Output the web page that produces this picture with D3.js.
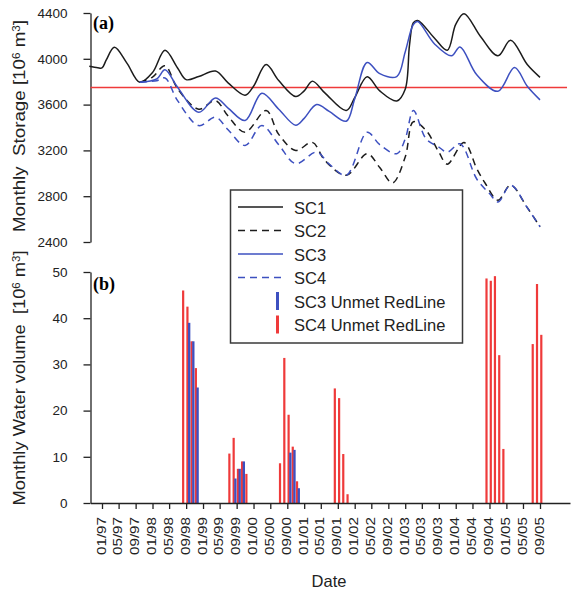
<!DOCTYPE html>
<html>
<head>
<meta charset="utf-8">
<script src="https://cdn.jsdelivr.net/npm/d3@7"></script>
<style>
  body { margin: 0; background: #fff; }
  svg { display: block; font-family: "Liberation Sans", Arial, sans-serif; }
</style>
</head>
<body>
<svg id="chart"></svg>
<script>
const width = 575;
const height = 592;

// monthly storage, 10^6 m3 (at turning points)
const sc1 = [
  ["1996-10", 3935], ["1996-12", 3922], ["1997-01", 3920], ["1997-02", 3990], ["1997-04", 4100],
  ["1997-07", 3960], ["1997-10", 3795], ["1998-01", 3880], ["1998-04", 4075], ["1998-07", 3920],
  ["1998-09", 3818], ["1998-12", 3845], ["1999-04", 3893], ["1999-07", 3790], ["1999-11", 3682],
  ["2000-01", 3760], ["2000-04", 3950], ["2000-07", 3810], ["2000-11", 3670], ["2001-01", 3720],
  ["2001-03", 3805], ["2001-06", 3700], ["2001-11", 3548], ["2002-01", 3660], ["2002-04", 3843],
  ["2002-07", 3720], ["2002-11", 3632], ["2003-01", 3735], ["2003-02", 4120], ["2003-03", 4315],
  ["2003-04", 4335], ["2003-08", 4180], ["2003-11", 4075], ["2004-01", 4300], ["2004-03", 4394],
  ["2004-07", 4190], ["2004-11", 4026], ["2005-02", 4163], ["2005-06", 3950], ["2005-09", 3838]
];
const sc2 = [
  ["1997-10", 3795], ["1998-01", 3840], ["1998-04", 3939], ["1998-07", 3739], ["1998-12", 3560],
  ["1999-04", 3635], ["1999-07", 3500], ["1999-11", 3359], ["2000-04", 3548], ["2000-07", 3340],
  ["2000-11", 3200], ["2001-03", 3270], ["2001-06", 3110], ["2001-11", 2983], ["2002-04", 3171],
  ["2002-07", 3050], ["2002-10", 2916], ["2003-01", 3142], ["2003-03", 3450], ["2003-06", 3374],
  ["2003-09", 3185], ["2003-11", 3080], ["2004-03", 3268], ["2004-06", 3041], ["2004-08", 2913],
  ["2004-11", 2765], ["2005-02", 2896], ["2005-06", 2700], ["2005-09", 2533]
];
const sc3 = [
  ["1997-10", 3795], ["1998-02", 3825], ["1998-04", 3904], ["1998-07", 3751], ["1998-12", 3533],
  ["1999-04", 3658], ["1999-07", 3570], ["1999-11", 3461], ["2000-03", 3700], ["2000-07", 3560],
  ["2000-11", 3420], ["2001-01", 3480], ["2001-04", 3600], ["2001-07", 3540], ["2001-11", 3455],
  ["2002-01", 3650], ["2002-04", 3968], ["2002-07", 3870], ["2002-11", 3845], ["2003-01", 4060],
  ["2003-03", 4300], ["2003-04", 4325], ["2003-08", 4130], ["2003-12", 4026], ["2004-02", 4104],
  ["2004-06", 3860], ["2004-11", 3716], ["2005-03", 3924], ["2005-06", 3760], ["2005-09", 3641]
];
const sc4 = [
  ["1997-10", 3795], ["1998-02", 3809], ["1998-04", 3832], ["1998-07", 3635], ["1998-12", 3417],
  ["1999-04", 3490], ["1999-07", 3380], ["1999-11", 3243], ["2000-03", 3417], ["2000-07", 3250],
  ["2000-11", 3084], ["2001-04", 3185], ["2001-07", 3080], ["2001-11", 2983], ["2002-04", 3359],
  ["2002-07", 3250], ["2002-11", 3171], ["2003-01", 3300], ["2003-03", 3548], ["2003-06", 3300],
  ["2003-09", 3229], ["2003-11", 3185], ["2004-02", 3258], ["2004-06", 2950], ["2004-09", 2823],
  ["2004-11", 2750], ["2005-02", 2896], ["2005-06", 2700], ["2005-09", 2533]
];
const redLine = 3750;

// unmet red line volume, 10^6 m3
const sc3Unmet = [
  ["1998-09", 39], ["1998-10", 35], ["1998-11", 25],
  ["1999-08", 5.3], ["1999-09", 7.4], ["1999-10", 9.0],
  ["2000-09", 10.9], ["2000-10", 11.5], ["2000-11", 3.2]
];
const sc4Unmet = [
  ["1998-08", 46], ["1998-09", 42.5], ["1998-10", 35], ["1998-11", 29.2],
  ["1999-07", 10.7], ["1999-08", 14.1], ["1999-09", 7.4], ["1999-10", 9.0], ["1999-11", 6.3],
  ["2000-07", 8.6], ["2000-08", 31.4], ["2000-09", 19.1], ["2000-10", 12.2], ["2000-11", 4.7],
  ["2001-08", 24.8], ["2001-09", 22.7], ["2001-10", 10.6], ["2001-11", 1.9],
  ["2004-08", 48.6], ["2004-09", 48.1], ["2004-10", 49.1], ["2004-11", 32.0], ["2004-12", 11.7],
  ["2005-07", 34.4], ["2005-08", 47.4], ["2005-09", 36.4]
];

const storageTicks = [2400, 2800, 3200, 3600, 4000, 4400];
const volumeTicks = [0, 10, 20, 30, 40, 50];
const firstTick = "1997-01";
const lastTick = "2005-09";

const parse = d3.timeParse("%Y-%m");
const black = "#1c1c1c", blue = "#3d50c0", red = "#ef3a3a";

const svg = d3.select("#chart")
  .attr("width", width)
  .attr("height", height);

const x = d3.scaleTime()
  .domain([parse(firstTick), parse(lastTick)])
  .range([102, 540]);
x.domain([x.invert(90.5), x.invert(570)]).range([90.5, 570]);

const yTop = d3.scaleLinear().domain([2400, 4400]).range([242, 13]);
const yBot = d3.scaleLinear().domain([0, 50]).range([503, 272]);

function styleAxis(g) {
  g.selectAll("path, line").attr("stroke", "#222").attr("stroke-width", 1.3);
  g.selectAll("text").attr("fill", "#222").style("font-size", "13.5px")
    .style("font-family", "'Liberation Sans', Arial, sans-serif");
}

// (a) storage
svg.append("g")
  .attr("transform", "translate(90.5,0)")
  .call(d3.axisLeft(yTop).tickValues(storageTicks).tickFormat(d3.format("d"))
    .tickSize(7).tickSizeOuter(0).tickPadding(16))
  .call(styleAxis);

svg.append("line")
  .attr("x1", 90.5).attr("x2", 567)
  .attr("y1", yTop(redLine)).attr("y2", yTop(redLine))
  .attr("stroke", red).attr("stroke-width", 1.5);

const line = d3.line()
  .x(d => x(parse(d[0])))
  .y(d => yTop(d[1]))
  .curve(d3.curveCatmullRom.alpha(0.5));

const series = [
  { data: sc1, color: black, dash: null },
  { data: sc2, color: black, dash: "7,5" },
  { data: sc3, color: blue, dash: null },
  { data: sc4, color: blue, dash: "7,5" }
];

series.forEach(s => {
  svg.append("path")
    .attr("d", line(s.data))
    .attr("fill", "none")
    .attr("stroke", s.color)
    .attr("stroke-width", 1.5)
    .attr("stroke-dasharray", s.dash);
});

// (b) unmet volume
svg.append("g")
  .attr("transform", "translate(90.5,0)")
  .call(d3.axisLeft(yBot).tickValues(volumeTicks).tickSize(7).tickSizeOuter(0).tickPadding(16))
  .call(styleAxis);

svg.append("g").selectAll("rect")
  .data(sc4Unmet)
  .enter().append("rect")
  .attr("x", d => x(parse(d[0])) + 0.2)
  .attr("width", 2.2)
  .attr("y", d => yBot(d[1]))
  .attr("height", d => yBot(0) - yBot(d[1]))
  .attr("fill", red);

svg.append("g").selectAll("rect")
  .data(sc3Unmet)
  .enter().append("rect")
  .attr("x", d => x(parse(d[0])) + 1.9)
  .attr("width", 2.3)
  .attr("y", d => yBot(d[1]))
  .attr("height", d => yBot(0) - yBot(d[1]))
  .attr("fill", blue);

const monthTicks = d3.timeMonth.every(4).range(parse(firstTick), d3.timeMonth.offset(parse(lastTick), 1));

svg.append("g")
  .attr("transform", "translate(0,503)")
  .call(d3.axisBottom(x).tickValues(monthTicks).tickFormat(d3.timeFormat("%m/%y")).tickSize(6).tickSizeOuter(0))
  .call(styleAxis)
  .call(g => g.selectAll("text")
    .attr("transform", "rotate(-90)")
    .attr("text-anchor", "end")
    .attr("x", -14)
    .attr("y", -1.5)
    .attr("dy", "0.35em")
    .style("font-size", "13px")
    .attr("textLength", 38)
    .attr("lengthAdjust", "spacingAndGlyphs"));

// titles
svg.append("text")
  .attr("x", 329).attr("y", 587)
  .attr("text-anchor", "middle")
  .style("font-size", "16.5px").attr("fill", "#222")
  .text("Date");

function yTitle(cy, len, label) {
  const t = svg.append("text")
    .attr("transform", `translate(25,${cy}) rotate(-90)`)
    .attr("text-anchor", "middle")
    .attr("textLength", len)
    .attr("lengthAdjust", "spacingAndGlyphs")
    .style("font-size", "16px").attr("fill", "#222");
  t.append("tspan").text(label + " [10");
  t.append("tspan").attr("baseline-shift", "super").style("font-size", "10px").text("6");
  t.append("tspan").text(" m");
  t.append("tspan").attr("baseline-shift", "super").style("font-size", "10px").text("3");
  t.append("tspan").text("]");
}
yTitle(126, 212, "Monthly\u00a0 Storage");
yTitle(378, 255, "Monthly Water volume\u00a0");

svg.append("text").attr("x", 93).attr("y", 29)
  .style("font-family", "'Liberation Serif', 'Times New Roman', serif")
  .style("font-weight", "bold").style("font-size", "18px")
  .text("(a)");
svg.append("text").attr("x", 93).attr("y", 290)
  .style("font-family", "'Liberation Serif', 'Times New Roman', serif")
  .style("font-weight", "bold").style("font-size", "18px")
  .text("(b)");

// legend
const legend = svg.append("g");
legend.append("rect")
  .attr("x", 230.5).attr("y", 190).attr("width", 232).attr("height", 153)
  .attr("fill", "#fff").attr("stroke", "#3a3a3a").attr("stroke-width", 1.5);

const legendItems = [
  { label: "SC1", color: black, dash: null, kind: "line" },
  { label: "SC2", color: black, dash: "7,5", kind: "line" },
  { label: "SC3", color: blue, dash: null, kind: "line" },
  { label: "SC4", color: blue, dash: "7,5", kind: "line" },
  { label: "SC3 Unmet RedLine", color: blue, kind: "bar" },
  { label: "SC4 Unmet RedLine", color: red, kind: "bar" }
];

legendItems.forEach((d, i) => {
  const cy = 207 + i * 23.5;
  if (d.kind === "line") {
    legend.append("line")
      .attr("x1", 238).attr("x2", 283).attr("y1", cy).attr("y2", cy)
      .attr("stroke", d.color).attr("stroke-width", 1.5)
      .attr("stroke-dasharray", d.dash);
  } else {
    legend.append("rect")
      .attr("x", 276).attr("y", cy - 9).attr("width", 3).attr("height", 18)
      .attr("fill", d.color);
  }
  legend.append("text")
    .attr("x", 294).attr("y", cy + 6.5)
    .style("font-size", "16.5px").attr("fill", "#222")
    .text(d.label);
});
</script>
</body>
</html>
